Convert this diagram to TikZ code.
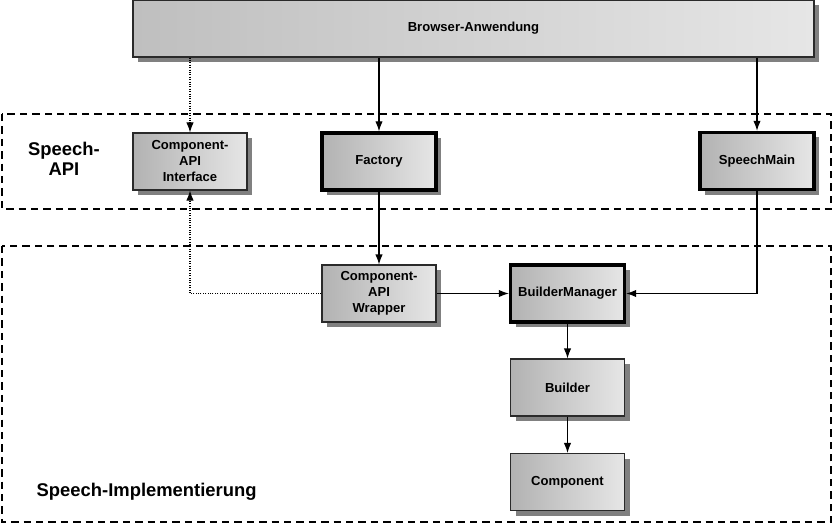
\documentclass[tikz,border=0pt]{standalone}
\usepackage{fontspec}
\setmainfont{Liberation Sans}
\usetikzlibrary{arrows.meta,shadows,positioning}
\definecolor{shleft}{HTML}{B2B2B2}
\definecolor{shright}{HTML}{E6E6E6}
\definecolor{bleft}{HTML}{BFBFBF}
\definecolor{bright}{HTML}{E6E6E6}
\definecolor{edge}{HTML}{2A2A2A}
\definecolor{shadowgray}{HTML}{808080}
\tikzset{
  boxbase/.style={rectangle, font=\fontsize{9.8}{12}\selectfont\bfseries, align=center,
    left color=shleft, right color=shright,
    minimum width=85.5pt, minimum height=42.75pt, inner sep=1pt,
    drop shadow={shadow xshift=3.75pt, shadow yshift=-3.75pt, fill=shadowgray, opacity=1}},
  thinbox/.style={boxbase, draw=edge, line width=0.8pt},
  thickbox/.style={boxbase, draw=black, line width=2.5pt},
  region/.style={draw=black, line width=1.1pt, dash pattern=on 5.5pt off 3.8pt},
  arr/.style={draw=black, line width=0.8pt, -{Latex[length=7.5pt,width=5.5pt]}},
  dotarr/.style={arr, densely dotted},
  biglabel/.style={font=\fontsize{13.8}{15.5}\selectfont\bfseries, align=center}
}
\begin{document}
\begin{tikzpicture}[x=0.75pt,y=-0.75pt]
\useasboundingbox (0,0) rectangle (834,531);
% regions
\draw[region] (2,114) rectangle (831,209);
\draw[region] (2,246) rectangle (831,522);
\node[biglabel] (apilabel) at (64,159) {Speech-\\API};
\node[biglabel, anchor=west] (impllabel) at (32,492) {Speech-Implementierung};
% browser bar
\node[boxbase, draw=edge, line width=0.8pt, left color=bleft, right color=bright,
      minimum width=510.75pt, minimum height=42.75pt] (browser) at (473.5,28.5) {Browser-Anwendung};
% nodes
\node[thinbox] (iface) at (190,161.5) {Component-\\API\\Interface};
\node[thickbox] (factory) at (379,161.5) {Factory};
\node[thickbox] (smain) at (757,161) {SpeechMain};
\node[thinbox] (wrapper) at (379,293.5) {Component-\\API\\Wrapper};
\node[thickbox] (bm) at (567.5,293.5) {BuilderManager};
\node[thinbox] (builder) at (567.5,387.5) {Builder};
\node[thinbox] (component) at (567.5,482) {Component};
% connectors
\draw[dotarr] (browser.south -| iface.north) -- (iface.north);
\draw[arr] (browser.south -| factory.north) -- (factory.north);
\draw[arr] (browser.south -| smain.north) -- (smain.north);
\draw[arr] (factory.south) -- (wrapper.north);
\draw[arr] (smain.south) |- (bm.east);
\draw[arr] (wrapper.east) -- (bm.west);
\draw[dotarr] (wrapper.west) -| (iface.south);
\draw[arr] (bm.south) -- (builder.north);
\draw[arr] (builder.south) -- (component.north);
\end{tikzpicture}
\end{document}
